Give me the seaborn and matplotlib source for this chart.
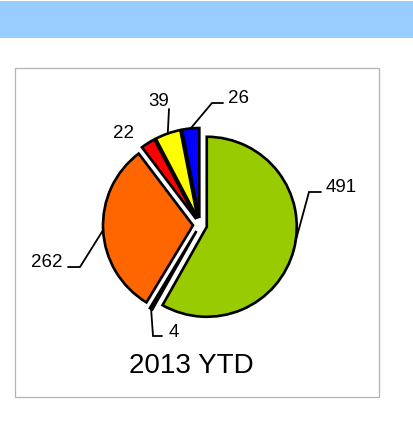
import matplotlib
matplotlib.use("Agg")
import math
import matplotlib.pyplot as plt
import seaborn as sns
from matplotlib.patches import Rectangle

# ---- data ----
categories = ["Green", "Dark", "Orange", "Red", "Yellow", "Blue"]
values = [491, 4, 262, 22, 39, 26]
value_labels = ["491", "4", "262", "22", "39", "26"]
colors = ["#99CC00", "#333333", "#FF6600", "#FF0000", "#FFFF00", "#0000FF"]
chart_title = "2013 YTD"

sns.set_theme(style="white")
plt.rcParams['font.family'] = ['Liberation Sans', 'DejaVu Sans']

W, H = 413, 423
fig = plt.figure(figsize=(W / 100, H / 100), dpi=100)
fig.patch.set_facecolor("white")
ax = fig.add_axes([0, 0, 1, 1])


def P(x, y):
    """pixel (top-left origin) -> data coords (y up)"""
    return (x, H - y)


# banner and chart frame
ax.add_patch(Rectangle(P(0, 38), W, 37, facecolor="#99CCFF", edgecolor="none", zorder=0))
ax.add_patch(Rectangle(P(14.5, 396.5), 364, 329, facecolor="white",
                       edgecolor="#B3B3B3", lw=0.9, zorder=0))

R = 90
EXPL = 7
center = P(200, 225)
wedges, _ = ax.pie(values, colors=colors, startangle=90, counterclock=False,
                   center=center, radius=R, explode=[EXPL] * len(values),
                   wedgeprops=dict(edgecolor="black", linewidth=1.9, joinstyle="miter"),
                   frame=False)
for w in wedges:
    w.set_zorder(2)

ax.set_xlim(0, W)
ax.set_ylim(0, H)
ax.set_aspect("equal")
ax.axis("off")

# label layout (pixel positions): text anchor (center x, baseline y), leader elbow, leader end
label_pos = [(341, 192), (174, 337), (47, 267), (123, 138), (159, 106), (238.5, 103)]
leader_mid = [(309, 192), (153, 336), (80, 267), None, (169, 109), (212, 103)]
leader_end = [(321, 192), (162, 336), (68, 267), None, (169, 109), (223, 103)]
anchor_shift = [5.5, 0, 0, 0, 0, 0]  # degrees shift of the leader attachment

for w, lab, tp, mid, end, sh in zip(wedges, value_labels, label_pos, leader_mid,
                                    leader_end, anchor_shift):
    ang = math.radians(0.5 * (w.theta1 + w.theta2) + sh)
    cx, cy = w.center
    ax0 = cx + w.r * math.cos(ang)
    ay0 = cy + w.r * math.sin(ang)
    if mid is not None:
        mx, my = P(*mid)
        ex, ey = P(*end)
        ax.plot([ax0, mx, ex], [ay0, my, ey], color="black", lw=1.3,
                solid_joinstyle="miter", zorder=3)
    tx, ty = P(*tp)
    ax.text(tx, ty, lab, ha="center", va="baseline", fontsize=13.5,
            color="black", zorder=4)

tx, ty = P(191, 373)
ax.text(tx, ty, chart_title, ha="center", va="baseline", fontsize=20, color="black")

fig.savefig("out.png", dpi=100, facecolor="white")
